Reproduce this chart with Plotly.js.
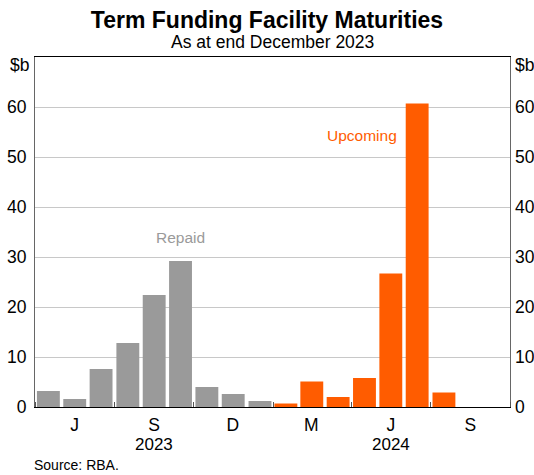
<!DOCTYPE html>
<html>
<head>
<meta charset="utf-8">
<script src="https://cdn.plot.ly/plotly-3.0.1.min.js"></script>
<style>html,body{margin:0;padding:0;background:#fff}#chart{width:534px;height:475px}</style>
</head>
<body>
<div id="chart"></div>
<script>
// Data (A$ billion, monthly)
const repaidMonths = ['2023-05','2023-06','2023-07','2023-08','2023-09','2023-10','2023-11','2023-12','2024-01'];
const repaidValues = [3.2, 1.6, 7.6, 12.8, 22.4, 29.2, 4.0, 2.6, 1.2];
const upcomingMonths = ['2024-02','2024-03','2024-04','2024-05','2024-06','2024-07','2024-08'];
const upcomingValues = [0.7, 5.1, 2.0, 5.8, 26.7, 60.7, 2.9];
const tickMonths = ['2023-06-16','2023-09-16','2023-12-16','2024-03-16','2024-06-16','2024-09-16'];
const tickLabels = ['J','S','D','M','J','S'];
const yearLabels = ['2023','2024'];
const yearPositions = ['2023-09-16','2024-06-16'];
const yTicks = [0,10,20,30,40,50,60];

const FONT = 'Arial, "Liberation Sans", sans-serif';
const DAY = 86400000;
const barWidth = 26.5 * DAY;

const traces = [
  {type:'bar', name:'Repaid', x: repaidMonths, y: repaidValues,
   xperiod:'M1', xperiodalignment:'middle', width: barWidth,
   marker:{color:'#9a9a9a', line:{width:0}}, hoverinfo:'x+y'},
  {type:'bar', name:'Upcoming', x: upcomingMonths, y: upcomingValues,
   xperiod:'M1', xperiodalignment:'middle', width: barWidth,
   marker:{color:'#ff5c00', line:{width:0}}, hoverinfo:'x+y'},
  {type:'scatter', x:[], y:[], yaxis:'y2', showlegend:false, hoverinfo:'skip'}
];

const annotations = [
  {text:'As at end December 2023', xref:'paper', yref:'paper', x:0.5, y:1, xanchor:'center', yanchor:'middle', yshift:15,
   showarrow:false, font:{family:FONT, size:17.5, color:'#000'}},
  {text:'$b', xref:'paper', yref:'paper', x:0, y:1, xanchor:'right', yanchor:'middle', xshift:-4, yshift:-8,
   showarrow:false, font:{family:FONT, size:17.5, color:'#000'}},
  {text:'$b', xref:'paper', yref:'paper', x:1, y:1, xanchor:'left', yanchor:'middle', xshift:3, yshift:-8,
   showarrow:false, font:{family:FONT, size:17.5, color:'#000'}},
  {text:'Repaid', xref:'x', yref:'y', x:'2023-10-16', y:34, xanchor:'center', yanchor:'middle',
   showarrow:false, font:{family:FONT, size:15.5, color:'#9a9a9a'}},
  {text:'Upcoming', xref:'x', yref:'y', x:'2024-05-14', y:54.3, xanchor:'center', yanchor:'middle',
   showarrow:false, font:{family:FONT, size:15.5, color:'#ff5c00'}},
  {text:'Source: RBA.', xref:'paper', yref:'paper', x:0, y:0, xanchor:'left', yanchor:'middle', xshift:-3, yshift:-58,
   showarrow:false, font:{family:FONT, size:14, color:'#000'}}
];
yearLabels.forEach((t, i) => annotations.push({
  text:t, xref:'x', yref:'paper', x: yearPositions[i], y:0, xanchor:'center', yanchor:'middle', yshift:-37,
  showarrow:false, font:{family:FONT, size:17, color:'#000'}}));

const layout = {
  width:534, height:475,
  margin:{l:35, r:24, t:57, b:68},
  paper_bgcolor:'#fff', plot_bgcolor:'#fff',
  showlegend:false,
  barmode:'overlay',
  font:{family:FONT, color:'#000', size:17.5},
  title:{text:'<b>Term Funding Facility Maturities</b>', font:{family:FONT, size:23, color:'#000'},
         x:0.5, xref:'container', xanchor:'center', y:1-20/475, yref:'container', yanchor:'middle'},
  xaxis:{type:'date', range:['2023-05-01','2024-11-01'], tickmode:'array', tickvals: tickMonths, ticktext: tickLabels,
         ticks:'', showgrid:false, zeroline:false, showline:true, linecolor:'#000', linewidth:1, mirror:true,
         tickfont:{family:FONT, size:17.5, color:'#000'}, ticklabelstandoff:2,
         minor:{dtick:'M3', tick0:'2023-02-01', ticks:'inside', ticklen:5, tickcolor:'#555', tickwidth:1, showgrid:false}},
  yaxis:{range:[0,70], tickmode:'array', tickvals: yTicks, ticks:'', showgrid:true, gridcolor:'#c8c8c8', gridwidth:1,
         zeroline:false, showline:true, linecolor:'#666', linewidth:1, mirror:true,
         tickfont:{family:FONT, size:17.5, color:'#000'}, ticklabelstandoff:4, fixedrange:true},
  yaxis2:{range:[0,70], overlaying:'y', side:'right', tickmode:'array', tickvals: yTicks, ticks:'', showgrid:false,
          zeroline:false, showline:false, tickfont:{family:FONT, size:17.5, color:'#000'}, ticklabelstandoff:4},
  annotations: annotations
};

Plotly.newPlot('chart', traces, layout, {displayModeBar:false, staticPlot:true});
</script>
</body>
</html>
